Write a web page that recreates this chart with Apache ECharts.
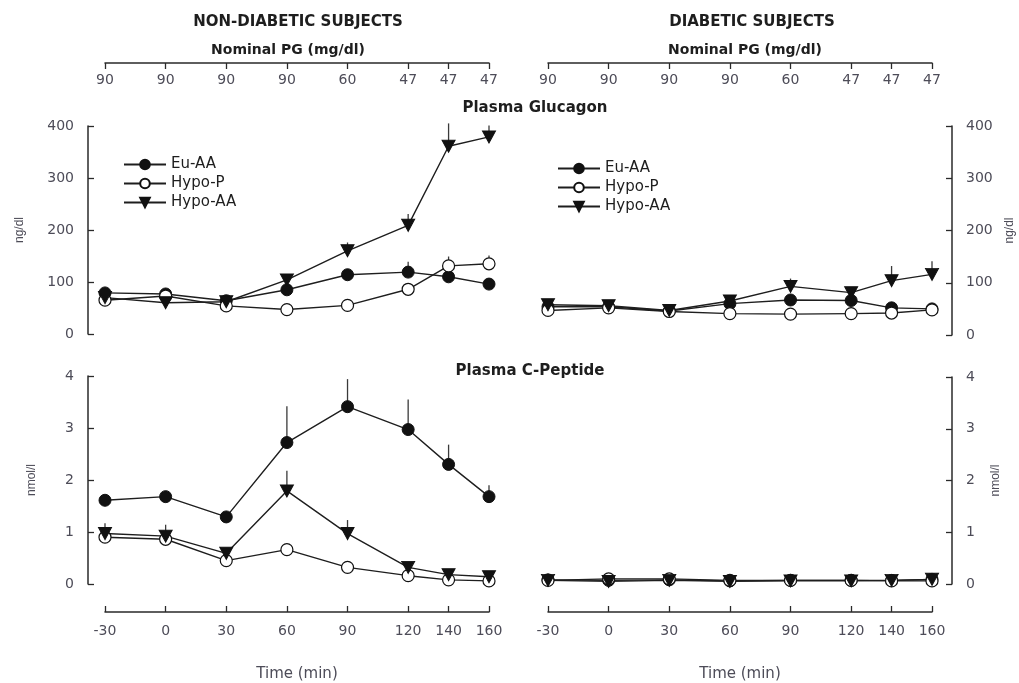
<!DOCTYPE html>
<html>
<head>
<meta charset="utf-8">
<script src="https://cdn.jsdelivr.net/npm/echarts@6/dist/echarts.min.js"></script>
<style>
html,body{margin:0;padding:0;background:#fff;}
#chart{width:1019px;height:683px;}
</style>
</head>
<body>
<div id="chart"></div>
<script>
// ---------- DATA ----------
const times = [-30, 0, 30, 60, 90, 120, 140, 160];
const timeLabels = ['-30', '0', '30', '60', '90', '120', '140', '160'];
const nominalPG = ['90', '90', '90', '90', '60', '47', '47', '47'];
const groupNames = ['Eu-AA', 'Hypo-P', 'Hypo-AA'];

// Non-diabetic, plasma glucagon (ng/dl)
const ndGlucEuAA   = [79, 77, 64, 85, 114, 119, 110, 96];
const ndGlucHypoP  = [65, 73, 54, 47, 55, 86, 131, 135];
const ndGlucHypoAA = [70, 60, 62, 104, 160, 209, 361, 379];
const ndGlucEuAAErr   = [6, 6, 5, 8, 10, 20, 8, 6];
const ndGlucHypoPErr  = [5, 5, 5, 5, 6, 10, 18, 16];
const ndGlucHypoAAErr = [8, 6, 6, 10, 16, 22, 44, 22];

// Non-diabetic, plasma C-peptide (nmol/l)
const ndCpEuAA   = [1.61, 1.68, 1.29, 2.72, 3.41, 2.97, 2.30, 1.68];
const ndCpHypoP  = [0.90, 0.86, 0.45, 0.66, 0.32, 0.16, 0.08, 0.06];
const ndCpHypoAA = [0.97, 0.92, 0.59, 1.79, 0.97, 0.32, 0.18, 0.14];
const ndCpEuAAErr   = [0.10, 0.10, 0.10, 0.70, 0.53, 0.58, 0.38, 0.22];
const ndCpHypoPErr  = [0.05, 0.05, 0.05, 0.08, 0.05, 0.04, 0.03, 0.03];
const ndCpHypoAAErr = [0.20, 0.22, 0.10, 0.39, 0.26, 0.06, 0.04, 0.03];

// Diabetic, plasma glucagon (ng/dl)
const dGlucEuAA   = [54, 54, 46, 60, 67, 66, 52, 50];
const dGlucHypoP  = [47, 52, 45, 41, 40, 41, 42, 48];
const dGlucHypoAA = [58, 56, 47, 65, 93, 81, 104, 116];
const dGlucEuAAErr   = [4, 4, 4, 6, 8, 8, 5, 5];
const dGlucHypoPErr  = [3, 3, 3, 3, 3, 3, 4, 4];
const dGlucHypoAAErr = [4, 4, 4, 6, 15, 9, 28, 25];

// Diabetic, plasma C-peptide (nmol/l)
const dCpEuAA   = [0.08, 0.07, 0.08, 0.06, 0.07, 0.07, 0.07, 0.09];
const dCpHypoP  = [0.07, 0.10, 0.10, 0.07, 0.07, 0.07, 0.06, 0.06];
const dCpHypoAA = [0.07, 0.05, 0.07, 0.05, 0.06, 0.06, 0.07, 0.09];
const dCpEuAAErr   = [0.02, 0.02, 0.02, 0.02, 0.02, 0.02, 0.02, 0.02];
const dCpHypoPErr  = [0.02, 0.02, 0.02, 0.02, 0.02, 0.02, 0.02, 0.02];
const dCpHypoAAErr = [0.02, 0.02, 0.02, 0.02, 0.02, 0.02, 0.02, 0.02];

// ---------- BUILD ----------
const INK = '#1e1e1e';
const LABEL = '#4d4c58';
const TICKFONT = 'DejaVu Sans';

const symbolStyles = [
  { symbol: 'circle', symbolSize: 12, itemStyle: { color: '#111', borderColor: '#111', borderWidth: 1 } },
  { symbol: 'circle', symbolSize: 12, itemStyle: { color: '#fff', borderColor: '#111', borderWidth: 1.2 } },
  { symbol: 'triangle', symbolSize: [13, 12], symbolRotate: 180, itemStyle: { color: '#111', borderColor: '#111', borderWidth: 1 } }
];

function lineSeries(idx, name, vals) {
  const s = symbolStyles[groupNames.indexOf(name)];
  return Object.assign({
    type: 'line', name: name, xAxisIndex: idx, yAxisIndex: idx,
    data: times.map((t, i) => [t, vals[i]]),
    lineStyle: { color: INK, width: 1.4 },
    showSymbol: true, z: 3, animation: false
  }, s);
}

function errSeries(idx, vals, errs) {
  return {
    type: 'custom', xAxisIndex: idx, yAxisIndex: idx, silent: true, z: 2, animation: false,
    data: times.map((t, i) => [t, vals[i], errs[i]]),
    renderItem: function (params, api) {
      const x = api.value(0), y = api.value(1), e = api.value(2);
      const p0 = api.coord([x, y]);
      const p1 = api.coord([x, y + e]);
      return { type: 'line', shape: { x1: p0[0], y1: p0[1], x2: p1[0], y2: p1[1] },
               style: { stroke: '#3a3a3a', lineWidth: 1.3 } };
    }
  };
}

const panels = [
  { vals: [ndGlucEuAA, ndGlucHypoP, ndGlucHypoAA], errs: [ndGlucEuAAErr, ndGlucHypoPErr, ndGlucHypoAAErr] },
  { vals: [ndCpEuAA, ndCpHypoP, ndCpHypoAA], errs: [ndCpEuAAErr, ndCpHypoPErr, ndCpHypoAAErr] },
  { vals: [dGlucEuAA, dGlucHypoP, dGlucHypoAA], errs: [dGlucEuAAErr, dGlucHypoPErr, dGlucHypoAAErr] },
  { vals: [dCpEuAA, dCpHypoP, dCpHypoAA], errs: [dCpEuAAErr, dCpHypoPErr, dCpHypoAAErr] }
];

const series = [];
panels.forEach((p, idx) => {
  groupNames.forEach((n, k) => series.push(errSeries(idx, p.vals[k], p.errs[k])));
  groupNames.forEach((n, k) => series.push(lineSeries(idx, n, p.vals[k])));
});

const grids = [
  { left: 105, top: 126, width: 384, height: 208 },
  { left: 105, top: 376, width: 384, height: 208 },
  { left: 548, top: 126, width: 384, height: 209 },
  { left: 548, top: 377, width: 384, height: 208 }
];

const axisLineStyle = { show: true, onZero: false, lineStyle: { color: '#2a2a2a', width: 1.5 } };

function xAxisDef(idx, isTop) {
  return {
    type: 'value', gridIndex: idx, min: -30, max: 160,
    position: isTop ? 'top' : 'bottom',
    offset: isTop ? 63 : 28,
    axisLine: axisLineStyle,
    axisTick: { show: true, inside: true, length: 6, lineStyle: { color: '#2a2a2a', width: 1.3 }, customValues: times },
    axisLabel: {
      show: true, inside: isTop, margin: isTop ? 10 : 12,
      customValues: times,
      color: LABEL, fontFamily: TICKFONT, fontSize: 14,
      formatter: function (v) {
        const i = times.indexOf(v);
        return i < 0 ? '' : (isTop ? nominalPG[i] : timeLabels[i]);
      }
    },
    splitLine: { show: false },
    name: isTop ? '' : 'Time (min)',
    nameLocation: 'middle', nameGap: 55,
    nameTextStyle: { color: LABEL, fontFamily: TICKFONT, fontSize: 15 }
  };
}

function yAxisDef(idx, isRight, isGluc) {
  return {
    type: 'value', gridIndex: idx, min: 0, max: isGluc ? 400 : 4, interval: isGluc ? 100 : 1,
    position: isRight ? 'right' : 'left',
    offset: isRight ? 20 : 17,
    axisLine: axisLineStyle,
    axisTick: { show: true, inside: true, length: 6, lineStyle: { color: '#2a2a2a', width: 1.3 } },
    axisLabel: { color: LABEL, fontFamily: TICKFONT, fontSize: 14, margin: 14 },
    splitLine: { show: false },
    name: isGluc ? 'ng/dl' : 'nmol/l',
    nameLocation: 'middle', nameRotate: 90,
    nameGap: isRight ? (isGluc ? 52 : 38) : (isGluc ? 62 : 50),
    nameTextStyle: { color: LABEL, fontFamily: 'Liberation Sans', fontSize: 12 }
  };
}

const legendCommon = {
  orient: 'vertical', itemWidth: 42, itemHeight: 12, itemGap: 4, padding: 0,
  data: groupNames,
  textStyle: { color: INK, fontFamily: TICKFONT, fontSize: 15, padding: [0, 0, 0, 0] },
  selectedMode: false
};

function txt(text, x, y, size, weight) {
  return { type: 'text', x: x, y: y,
    style: { text: text, fill: INK, font: (weight || 'bold') + ' ' + size + 'px "DejaVu Sans"',
             textAlign: 'center', textVerticalAlign: 'middle' } };
}

const option = {
  backgroundColor: '#fff',
  animation: false,
  grid: grids,
  xAxis: [xAxisDef(0, true), xAxisDef(1, false), xAxisDef(2, true), xAxisDef(3, false)],
  yAxis: [yAxisDef(0, false, true), yAxisDef(1, false, false), yAxisDef(2, true, true), yAxisDef(3, true, false)],
  legend: [
    Object.assign({ left: 123, top: 157 }, legendCommon),
    Object.assign({ left: 557, top: 161 }, legendCommon)
  ],
  graphic: [
    txt('NON-DIABETIC SUBJECTS', 298, 22, 15),
    txt('Nominal PG (mg/dl)', 288, 50, 14),
    txt('DIABETIC SUBJECTS', 752, 22, 15),
    txt('Nominal PG (mg/dl)', 745, 50, 14),
    txt('Plasma Glucagon', 535, 108, 15),
    txt('Plasma C-Peptide', 530, 371, 15)
  ],
  series: series
};

const chart = echarts.init(document.getElementById('chart'), null, { renderer: 'canvas' });
chart.setOption(option);
</script>
</body>
</html>
